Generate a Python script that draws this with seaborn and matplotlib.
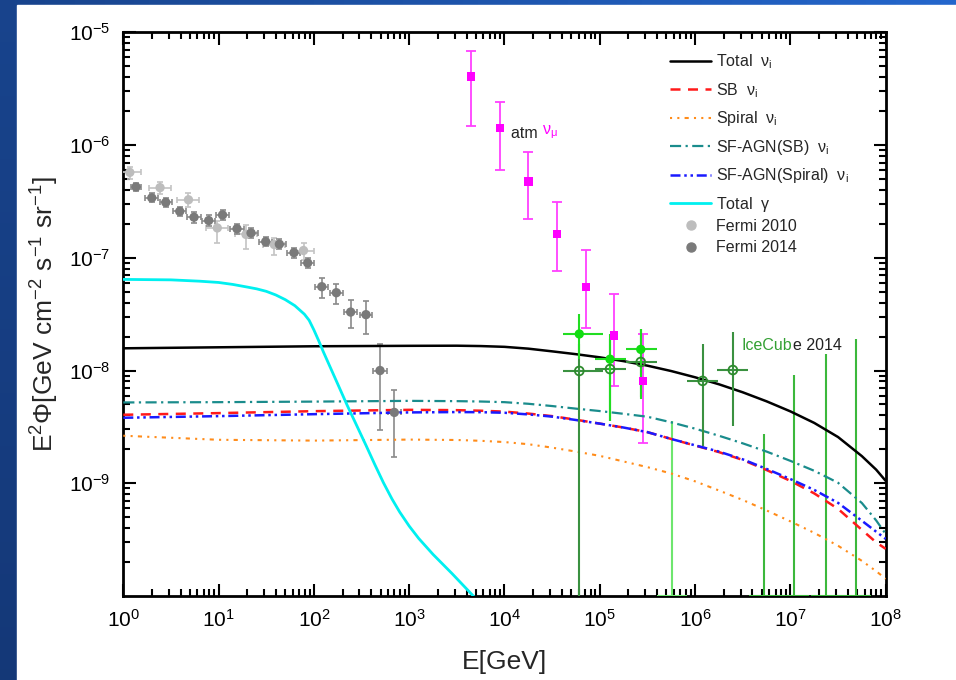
import numpy as np
import pandas as pd
import matplotlib
matplotlib.use("Agg")
import matplotlib.pyplot as plt
import seaborn as sns
from matplotlib.ticker import LogLocator, FixedLocator, LogFormatterSciNotation, NullFormatter
from matplotlib.lines import Line2D

# ---- model curves (log10 E grid, E^2 Phi in GeV cm^-2 s^-1 sr^-1) ----
logE = [0, 1, 2, 3, 3.5, 3.75, 4, 4.25, 4.5, 4.75, 5, 5.25, 5.5, 5.75, 6, 6.25, 6.5,
        6.75, 7, 7.25, 7.5, 7.75, 7.9, 8]
total_nu = [1.574e-8, 1.607e-8, 1.641e-8, 1.656e-8, 1.660e-8, 1.648e-8, 1.622e-8, 1.563e-8,
            1.479e-8, 1.396e-8, 1.309e-8, 1.211e-8, 1.104e-8, 9.89e-9, 8.71e-9, 7.55e-9,
            6.41e-9, 5.33e-9, 4.34e-9, 3.43e-9, 2.57e-9, 1.74e-9, 1.32e-9, 1.05e-9]
sb_nu = [4.05e-9, 4.19e-9, 4.36e-9, 4.48e-9, 4.45e-9, 4.40e-9, 4.32e-9, 4.15e-9, 3.94e-9,
         3.66e-9, 3.38e-9, 3.12e-9, 2.84e-9, 2.47e-9, 2.16e-9, 1.89e-9, 1.61e-9, 1.31e-9,
         1.05e-9, 8.13e-10, 5.93e-10, 3.86e-10, 2.99e-10, 2.62e-10]
spiral_nu = [2.64e-9, 2.43e-9, 2.39e-9, 2.44e-9, 2.42e-9, 2.38e-9, 2.32e-9, 2.22e-9, 2.07e-9,
             1.91e-9, 1.75e-9, 1.56e-9, 1.39e-9, 1.22e-9, 1.04e-9, 8.63e-10, 7.11e-10,
             5.74e-10, 4.59e-10, 3.63e-10, 2.79e-10, 2.05e-10, 1.66e-10, 1.42e-10]
sfagn_sb = [5.21e-9, 5.24e-9, 5.30e-9, 5.38e-9, 5.35e-9, 5.31e-9, 5.24e-9, 5.07e-9, 4.84e-9,
            4.59e-9, 4.37e-9, 4.13e-9, 3.89e-9, 3.47e-9, 3.05e-9, 2.64e-9, 2.26e-9, 1.91e-9,
            1.58e-9, 1.29e-9, 1.01e-9, 6.68e-10, 4.68e-10, 3.55e-10]
sfagn_spiral = [3.81e-9, 3.94e-9, 4.10e-9, 4.25e-9, 4.28e-9, 4.27e-9, 4.22e-9, 4.08e-9, 3.90e-9,
                3.64e-9, 3.38e-9, 3.12e-9, 2.84e-9, 2.47e-9, 2.17e-9, 1.91e-9, 1.63e-9,
                1.34e-9, 1.09e-9, 8.73e-10, 6.70e-10, 4.65e-10, 3.72e-10, 3.21e-10]

logE_gamma = [0, 0.5, 0.8, 1, 1.15, 1.3, 1.4, 1.5, 1.6, 1.7, 1.8, 1.9, 1.95, 2.0, 2.05, 2.1,
              2.25, 2.35, 2.45, 2.55, 2.64, 2.73, 2.82, 2.9, 3.0, 3.1, 3.25, 3.45, 3.64, 3.75]
total_gamma = [6.43e-8, 6.37e-8, 6.2e-8, 6.04e-8, 5.8e-8, 5.5e-8, 5.3e-8, 5.04e-8, 4.68e-8,
               4.25e-8, 3.76e-8, 3.16e-8, 2.79e-8, 2.29e-8, 1.84e-8, 1.46e-8, 7.59e-9, 4.9e-9,
               3.24e-9, 2.14e-9, 1.46e-9, 1.01e-9, 7.24e-10, 5.56e-10, 4.17e-10, 3.24e-10,
               2.34e-10, 1.58e-10, 1.07e-10, 8.5e-11]

# ---- Fermi data ----
f14_E = [1.36, 1.99, 2.79, 3.91, 5.52, 7.87, 11.0, 15.6, 21.9, 31.2, 43.4, 61.8, 86.1,
         121, 172, 243, 352, 494, 698]
f14_F = [4.25e-7, 3.40e-7, 3.10e-7, 2.58e-7, 2.29e-7, 2.14e-7, 2.40e-7, 1.81e-7, 1.66e-7,
         1.39e-7, 1.32e-7, 1.11e-7, 9.0e-8, 5.54e-8, 4.90e-8, 3.30e-8, 3.13e-8, 1.0e-8, 4.25e-9]
f14_Flo = [3.9e-7, 3.1e-7, 2.8e-7, 2.35e-7, 2.05e-7, 1.93e-7, 2.18e-7, 1.64e-7, 1.5e-7,
           1.26e-7, 1.19e-7, 1.0e-7, 8.1e-8, 4.43e-8, 3.9e-8, 2.37e-8, 2.1e-8, 2.96e-9, 1.71e-9]
f14_Fhi = [4.65e-7, 3.75e-7, 3.4e-7, 2.85e-7, 2.55e-7, 2.38e-7, 2.65e-7, 2.0e-7, 1.84e-7,
           1.53e-7, 1.46e-7, 1.23e-7, 1.0e-7, 6.65e-8, 5.9e-8, 4.22e-8, 4.1e-8, 1.71e-8, 6.65e-9]
f14_Elo = [1.2, 1.7, 2.4, 3.35, 4.7, 6.7, 9.4, 13.3, 18.7, 26.7, 37.1, 52.8, 73.6,
           103, 147, 208, 301, 422, 597]
f14_Ehi = [1.55, 2.33, 3.26, 4.57, 6.46, 9.2, 12.9, 18.3, 25.6, 36.5, 50.8, 72.3, 101,
           142, 201, 284, 412, 578, 817]

f10_E = [1.17, 2.43, 4.83, 9.69, 19.4, 38.4, 77.8]
f10_F = [5.72e-7, 4.19e-7, 3.27e-7, 1.84e-7, 1.61e-7, 1.31e-7, 1.16e-7]
f10_Flo = [5.0e-7, 3.7e-7, 2.85e-7, 1.34e-7, 1.2e-7, 1.05e-7, 9.5e-8]
f10_Fhi = [6.4e-7, 4.7e-7, 3.75e-7, 2.1e-7, 1.95e-7, 1.5e-7, 1.35e-7]
f10_Elo = [0.9, 1.87, 3.7, 7.45, 14.9, 29.5, 59.8]
f10_Ehi = [1.52, 3.16, 6.28, 12.6, 25.2, 49.9, 101]

# ---- atmospheric nu_mu ----
atm_E = [4450, 8900, 17800, 35600, 71200, 142000, 285000]
atm_F = [4.05e-6, 1.41e-6, 4.76e-7, 1.63e-7, 5.54e-8, 2.05e-8, 8.09e-9]
atm_Flo = [1.49e-6, 5.96e-7, 2.23e-7, 7.67e-8, 2.38e-8, 7.31e-9, 2.28e-9]
atm_Fhi = [6.88e-6, 2.43e-6, 8.67e-7, 3.15e-7, 1.17e-7, 4.80e-8, 2.10e-8]

# ---- IceCube 2014 ----
ic_fill_E = [6.09e4, 1.28e5, 2.69e5]
ic_fill_F = [2.11e-8, 1.26e-8, 1.54e-8]
ic_fill_Flo = [1.26e-8, 3.58e-9, 5.57e-9]
ic_fill_Fhi = [3.15e-8, 2.10e-8, 2.32e-8]
ic_fill_Elo = [4.14e4, 8.9e4, 1.88e5]
ic_fill_Ehi = [1.07e5, 1.88e5, 3.95e5]

ic_open_E = [6.09e4, 1.28e5, 2.69e5, 1.20e6, 2.49e6]
ic_open_F = [9.91e-9, 1.03e-8, 1.19e-8, 8.09e-9, 1.01e-8]
ic_open_Flo = [5e-11, 3.6e-9, 5.8e-9, 2.14e-9, 3.24e-9]
ic_open_Fhi = [1.71e-8, 1.9e-8, 2.32e-8, 1.71e-8, 2.20e-8]
ic_open_Elo = [4.14e4, 8.9e4, 1.88e5, 8.17e5, 1.69e6]
ic_open_Ehi = [1.07e5, 1.88e5, 3.95e5, 1.75e6, 3.61e6]

ic_ul_E = [5.69e5, 5.29e6, 1.10e7, 2.35e7, 4.88e7]
ic_ul_low = [1e-10, 1e-10, 1e-10, 1e-10, 1e-10]
ic_ul_top = [3.58e-9, 2.73e-9, 9.08e-9, 1.39e-8, 1.92e-8]
ic_ul_Elo = [3.95e5, 3.67e6, 7.6e6, 1.63e7, 3.39e7]
ic_ul_Ehi = [8.2e5, 7.6e6, 1.58e7, 3.38e7, 7.0e7]
ul_colors = ["#6ee66e", "#3cb83c", "#3cb83c", "#3cb83c", "#3cb83c"]

# ---- style ----
sns.set_theme(style="ticks")
plt.rcParams["font.family"] = ["Liberation Sans", "DejaVu Sans"]
plt.rcParams["mathtext.fontset"] = "custom"
plt.rcParams["mathtext.rm"] = "Liberation Sans"
plt.rcParams["mathtext.it"] = "Liberation Sans:italic"
plt.rcParams["mathtext.default"] = "regular"

fig = plt.figure(figsize=(9.56, 6.8), dpi=100)

# slide background (blue frame on left and top)
bg = fig.add_axes([0, 0, 1, 1], zorder=-10)
gx, gy = np.meshgrid(np.linspace(0, 1, 64), np.linspace(0, 1, 64))
t = np.clip(0.75 * gx + 0.25 * (1 - gy), 0, 1)[..., None]
dark = np.array([0.08, 0.22, 0.47])
light = np.array([0.14, 0.40, 0.80])
bg.imshow(dark * (1 - t) + light * t, extent=[0, 1, 0, 1], aspect="auto", origin="upper")
bg.add_patch(plt.Rectangle((17 / 956, 0), 1, 675 / 680, color="white", zorder=5))
bg.set_xlim(0, 1)
bg.set_ylim(0, 1)
bg.axis("off")

ax = fig.add_axes([123.3 / 956, 1 - 596 / 680, 762.4 / 956, 563.7 / 680])
ax.set_facecolor("white")

curves = pd.DataFrame({
    "E": np.power(10.0, logE),
    "Total": total_nu, "SB": sb_nu, "Spiral": spiral_nu,
    "SFAGN_SB": sfagn_sb, "SFAGN_Spiral": sfagn_spiral,
})
gamma = pd.DataFrame({"E": np.power(10.0, logE_gamma), "F": total_gamma})

styles = [
    ("Total", "black", "-", 1.8, r"Total  $\nu_{i}$"),
    ("SB", "#ff1a1a", (0, (4, 3)), 1.8, r"SB  $\nu_{i}$"),
    ("Spiral", "#ff8c1a", (0, (1, 2.5, 1, 2.5, 2, 2.5)), 1.5, r"Spiral  $\nu_{i}$"),
    ("SFAGN_SB", "#1a8c8c", (0, (5, 2, 1, 2)), 1.6, r"SF-AGN(SB)  $\nu_{i}$"),
    ("SFAGN_Spiral", "#1a1aff", (0, (4, 1.5, 1, 1.5, 1, 1.5)), 1.8, r"SF-AGN(Spiral)  $\nu_{i}$"),
]
handles = []
for col, c, ls, lw, lab in styles:
    sns.lineplot(data=curves, x="E", y=col, ax=ax, color=c, lw=lw, linestyle=ls,
                 estimator=None, sort=False, zorder=4)
    handles.append(Line2D([], [], color=c, lw=lw, linestyle=ls, label=lab))
sns.lineplot(data=gamma, x="E", y="F", ax=ax, color="#00f0f0", lw=2.0,
             estimator=None, sort=False, zorder=4)
handles.append(Line2D([], [], color="#00f0f0", lw=2.0, label=r"Total  $\gamma$"))


def errbars(x, y, ylo, yhi, xlo=None, xhi=None, color="k", lw=1.2, cap=3, z=3):
    x = np.asarray(x); y = np.asarray(y)
    yerr = [y - np.asarray(ylo), np.asarray(yhi) - y]
    xerr = None
    if xlo is not None:
        xerr = [x - np.asarray(xlo), np.asarray(xhi) - x]
    ax.errorbar(x, y, yerr=yerr, xerr=xerr, fmt="none", ecolor=color, elinewidth=lw,
                capsize=cap, capthick=lw, zorder=z)


# Fermi
errbars(f10_E, f10_F, f10_Flo, f10_Fhi, f10_Elo, f10_Ehi, color="#c4c4c4", lw=1.2, cap=2.5)
errbars(f14_E, f14_F, f14_Flo, f14_Fhi, f14_Elo, f14_Ehi, color="#8a8a8a", lw=1.2, cap=2.5)
sns.scatterplot(x=f10_E, y=f10_F, ax=ax, color="#bdbdbd", s=45, edgecolor="none", zorder=5)
sns.scatterplot(x=f14_E, y=f14_F, ax=ax, color="#7a7a7a", s=45, edgecolor="none", zorder=6)

# atmospheric
errbars(atm_E, atm_F, atm_Flo, atm_Fhi, color="#ff40ff", lw=1.3, cap=3.5)
sns.scatterplot(x=atm_E, y=atm_F, ax=ax, color="#ff00ff", marker="s", s=36,
                edgecolor="none", zorder=6)

# IceCube
ax.vlines(ic_ul_E, ic_ul_low, ic_ul_top, colors=ul_colors, lw=1.5, zorder=3)
ax.hlines(ic_ul_low, ic_ul_Elo, ic_ul_Ehi, colors=ul_colors, lw=1.5, zorder=3)
errbars(ic_open_E, ic_open_F, ic_open_Flo, ic_open_Fhi, ic_open_Elo, ic_open_Ehi,
        color="#3a9140", lw=1.5, cap=0, z=5)
errbars(ic_fill_E, ic_fill_F, ic_fill_Flo, ic_fill_Fhi, ic_fill_Elo, ic_fill_Ehi,
        color="#22dd22", lw=1.5, cap=0, z=5)
ax.scatter(ic_open_E, ic_open_F, s=40, facecolor="none", edgecolor="#2e8b2e", lw=1.3, zorder=7)
sns.scatterplot(x=ic_fill_E, y=ic_fill_F, ax=ax, color="#11dd11", s=45, edgecolor="none", zorder=7)

# text annotations
t1 = ax.text(1.17e4, 1.26e-6, "atm ", fontsize=11.5, color="#222222", va="center")
ax.annotate(r"$\nu_{\mu}$", xy=(1, 0), xycoords=t1, fontsize=11.5, color="#ff00ff", va="bottom")
t2 = ax.text(3.1e6, 1.67e-8, "IceCub", fontsize=11.5, color="#33a033", va="center")
ax.annotate("e 2014", xy=(1, 0), xycoords=t2, fontsize=11.5, color="#222222", va="bottom")

# axes
ax.set_xscale("log")
ax.set_yscale("log")
ax.set_xlim(1, 1e8)
ax.set_ylim(1e-10, 1e-5)
ax.xaxis.set_major_locator(LogLocator(base=10, numticks=20))
ax.xaxis.set_minor_locator(LogLocator(base=10, subs=np.arange(2, 10), numticks=200))
ax.xaxis.set_minor_formatter(NullFormatter())
ax.yaxis.set_major_locator(FixedLocator([1e-9, 1e-8, 1e-7, 1e-6, 1e-5]))
ax.yaxis.set_major_formatter(LogFormatterSciNotation())
ax.yaxis.set_minor_locator(LogLocator(base=10, subs=np.arange(2, 10), numticks=200))
ax.yaxis.set_minor_formatter(NullFormatter())
ax.tick_params(which="both", direction="in", top=True, right=True, width=1.5, colors="black")
ax.tick_params(which="major", length=9, labelsize=15, pad=9)
ax.tick_params(which="minor", length=5)
for sp in ax.spines.values():
    sp.set_linewidth(2)
    sp.set_color("black")

ax.set_xlabel("E[GeV]", fontsize=19, labelpad=14)
ax.set_ylabel(r"E$^2$$\Phi$[GeV cm$^{-2}$ s$^{-1}$ sr$^{-1}$]", fontsize=19, labelpad=6)

leg1 = ax.legend(handles=handles, loc="upper left", bbox_to_anchor=(0.717, 0.964),
                 frameon=False, fontsize=11.5, handlelength=2.6, handletextpad=0.3,
                 labelspacing=0.6, borderpad=0, borderaxespad=0)
ax.add_artist(leg1)
fermi_handles = [
    Line2D([], [], color="#bdbdbd", marker="o", linestyle="none", markersize=6.5, label="Fermi 2010"),
    Line2D([], [], color="#7a7a7a", marker="o", linestyle="none", markersize=6.5, label="Fermi 2014"),
]
ax.legend(handles=fermi_handles, loc="upper left", bbox_to_anchor=(0.717, 0.669),
          frameon=False, fontsize=11.5, handlelength=2.6, handletextpad=0.3,
          labelspacing=0.4, borderpad=0, borderaxespad=0)

fig.savefig("out.png", dpi=100)
